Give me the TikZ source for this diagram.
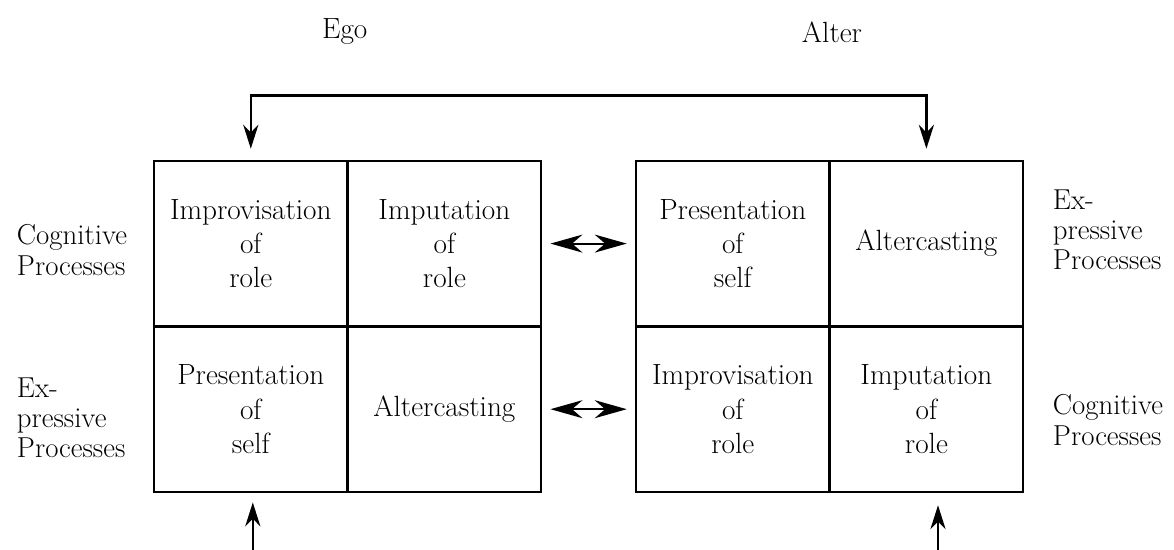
\documentclass[tikz,border=0pt]{standalone}
\usetikzlibrary{arrows.meta}
\begin{document}
\begin{tikzpicture}[
  every node/.style={font=\fontsize{20.8}{24.5}\selectfont},
  cell/.style={draw, line width=1.8pt, minimum width=4.84cm, minimum height=4.14cm, inner sep=0pt, align=center},
  side/.style={align=left, anchor=west, font=\fontsize{20.5}{21.5}\selectfont},
  link/.style={line width=1.5pt, {Stealth[length=0.8cm,width=0.45cm]}-{Stealth[length=0.8cm,width=0.45cm]}, shorten <=0.2cm, shorten >=0.2cm},
  vlink/.style={line width=1.6pt, -{Stealth[length=0.6cm,width=0.38cm]}}
]
\useasboundingbox (0,0) rectangle (29.35,13.75);
%\draw[help lines, color=gray!30] (0,0) grid (29,13);

% Ego
\node [cell] (improvL) at (6.27,7.66) {Improvisation\\of\\role};
\node [cell] (imputL) at (11.11,7.66) {Imputation\\of\\role};
\node [cell] (presL) at (6.27,3.52) {Presentation\\of\\self};
\node [cell] (alterL) at (11.11,3.52) {Altercasting};

% Alter
\node [cell] (presR) at (18.32,7.66) {Presentation\\of\\self};
\node [cell] (alterR) at (23.16,7.66) {Altercasting};
\node [cell] (improvR) at (18.32,3.52) {Improvisation\\of\\role};
\node [cell] (imputR) at (23.16,3.52) {Imputation\\of\\role};

\node (ego) at (8.62,12.95) {Ego};
\node (alter) at (20.8,12.95) {Alter};

\node [side] (cogL) at (0.3,7.5) {Cognitive\\Processes};
\node [side] (expL) at (0.3,3.3) {Ex-\\pressive\\Processes};
\node [side] (expR) at (26.2,8.0) {Ex-\\pressive\\Processes};
\node [side] (cogR) at (26.2,3.25) {Cognitive\\Processes};

\draw [link] (imputL.east) -- (presR.west);
\draw [link] (alterL.east) -- (improvR.west);

\draw [line width=1.6pt, {Stealth[length=0.6cm,width=0.38cm]}-{Stealth[length=0.6cm,width=0.38cm]}, shorten <=0.27cm, shorten >=0.27cm]
  (improvL.north) -- ++(0,1.6) -| (alterR.north);

\coordinate (inL) at (6.32,0);
\coordinate (inR) at (23.45,0);
\draw [vlink, shorten >=0.23cm] (inL) -- (inL |- presL.south);
\draw [vlink, shorten >=0.3cm] (inR) -- (inR |- imputR.south);
\end{tikzpicture}
\end{document}
